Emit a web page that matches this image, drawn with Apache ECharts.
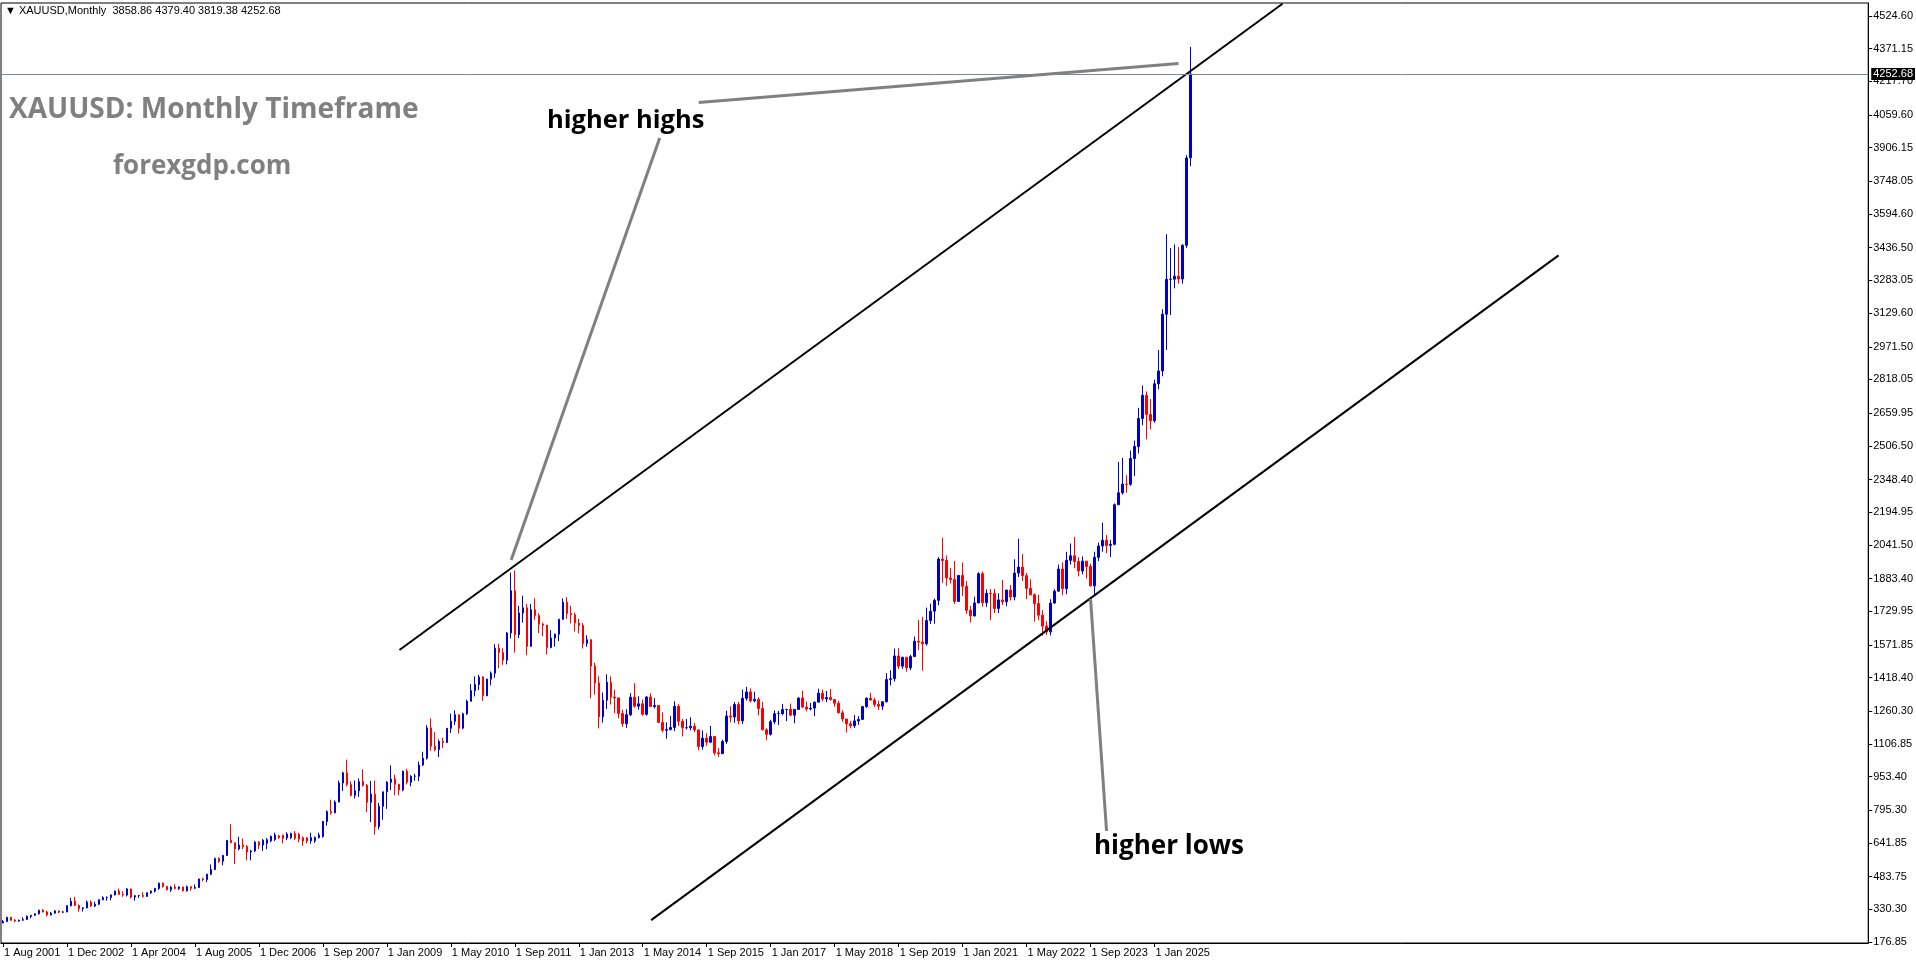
<!DOCTYPE html>
<html><head><meta charset="utf-8">
<script src="https://cdn.jsdelivr.net/npm/echarts@6/dist/echarts.min.js"></script>
<style>html,body{margin:0;padding:0;background:#fff;overflow:hidden}#c{width:1916px;height:964px}</style>
</head><body><div id="c"></div>
<script>
// Monthly bars, each row = [open, high, low, close]
const y2001 = [[266,280,265,273],[273,294,270,293],[293,293,277,279],[279,285,271,275],[275,282,272,279]];
const y2002 = [[279,293,277,282],[282,302,280,297],[297,304,288,302],[302,311,299,309],[309,328,306,326],[326,331,316,318],[318,324,297,304],[304,318,301,312],[312,326,310,323],[323,323,312,317],[317,323,313,318],[318,349,316,347]];
const y2003 = [[347,384,344,368],[368,389,345,348],[348,353,319,334],[334,341,320,337],[337,372,335,364],[364,372,342,346],[346,366,341,354],[354,377,350,375],[375,392,373,385],[385,391,371,386],[386,400,373,398],[398,418,396,416]];
const y2004 = [[416,428,399,400],[400,415,389,397],[397,430,391,426],[426,428,381,388],[388,397,371,394],[394,398,384,395],[395,410,386,391],[391,410,389,408],[408,419,402,416],[416,431,409,428],[428,456,421,453],[453,456,432,438]];
const y2005 = [[438,440,419,422],[422,439,412,435],[435,448,424,428],[428,439,421,435],[435,437,414,417],[417,442,414,436],[436,438,418,429],[429,447,425,433],[433,474,431,473],[473,479,462,470],[470,497,458,495],[495,541,492,517]];
const y2006 = [[517,573,515,569],[569,574,548,556],[556,586,537,583],[583,655,582,654],[654,730,642,643],[643,644,543,614],[614,671,607,632],[632,663,613,625],[625,632,560,599],[599,610,560,604],[604,650,599,646],[646,650,613,632]];
const y2007a = [[632,660,605,655],[640,665,612,657],[652,676,645,673],[658,690,650,679],[675,680,660,668],[678,681,640,664],[665,692,655,684],[667,690,660,686],[686,698,655,664],[683,690,645,660],[666,672,628,651],[666,670,640,651],[652,690,638,667],[652,672,642,668],[667,690,662,679]];
const y2007b = [[672,744,667,743],[743,795,723,789],[789,845,775,783],[783,842,782,834]];
const y2008 = [[834,935,833,923],[923,976,886,971],[971,1033,907,916],[916,931,860,865],[865,935,851,887],[887,945,858,930],[930,988,906,913],[913,919,786,833],[833,933,740,871],[871,935,681,718],[718,830,705,814],[814,882,751,882]];
const y2009 = [[882,932,802,927],[927,1006,890,942],[942,962,866,917],[917,920,865,891],[891,981,884,979],[979,990,917,927],[927,960,908,955],[955,967,934,955],[955,1024,932,1008],[1008,1070,1003,1040],[1040,1195,1033,1182],[1182,1227,1075,1096]];
const y2010 = [[1096,1162,1072,1081],[1081,1128,1045,1118],[1118,1135,1088,1113],[1113,1180,1112,1180],[1180,1249,1158,1213],[1213,1265,1196,1244],[1244,1245,1156,1181],[1181,1254,1176,1248],[1248,1314,1244,1307],[1307,1388,1307,1357],[1357,1424,1330,1386],[1386,1431,1360,1421]];
const y2011 = [[1421,1424,1309,1333],[1333,1413,1331,1411],[1411,1447,1382,1439],[1439,1575,1417,1556],[1556,1577,1462,1536],[1536,1556,1478,1500],[1500,1632,1480,1628],[1628,1911,1602,1826],[1826,1921,1535,1620],[1620,1755,1604,1722],[1722,1803,1676,1746],[1746,1764,1523,1565]];
const y2012 = [[1565,1764,1563,1737],[1737,1791,1690,1710],[1710,1720,1627,1669],[1669,1676,1613,1664],[1664,1666,1527,1560],[1560,1641,1556,1604],[1604,1625,1564,1622],[1622,1694,1590,1692],[1692,1790,1690,1772],[1772,1796,1694,1719],[1719,1755,1672,1713],[1713,1723,1635,1675]];
const y2013 = [[1675,1694,1626,1663],[1663,1675,1555,1578],[1578,1617,1563,1596],[1596,1598,1321,1472],[1472,1488,1338,1393],[1393,1424,1180,1234],[1234,1348,1207,1312],[1312,1434,1271,1396],[1396,1424,1292,1327],[1327,1361,1251,1323],[1323,1324,1227,1250],[1250,1267,1187,1202]];
const y2014 = [[1202,1270,1182,1244],[1244,1345,1238,1326],[1326,1392,1277,1284],[1284,1331,1268,1295],[1295,1315,1240,1246],[1246,1332,1240,1327],[1327,1345,1281,1282],[1282,1322,1273,1287],[1287,1287,1205,1208],[1208,1255,1161,1171],[1171,1208,1131,1175],[1175,1238,1170,1184]];
const y2015 = [[1184,1307,1167,1283],[1283,1293,1191,1213],[1213,1224,1142,1183],[1183,1224,1175,1183],[1183,1232,1170,1190],[1190,1205,1162,1172],[1172,1175,1077,1095],[1095,1170,1080,1134],[1134,1157,1098,1115],[1115,1191,1111,1142],[1142,1142,1053,1065],[1065,1088,1046,1061]];
const y2016 = [[1061,1127,1061,1118],[1118,1263,1107,1238],[1238,1283,1208,1233],[1233,1303,1206,1292],[1292,1304,1199,1215],[1215,1362,1200,1321],[1321,1375,1310,1351],[1351,1367,1301,1309],[1309,1352,1302,1316],[1316,1326,1241,1273],[1273,1304,1171,1173],[1173,1180,1124,1152]];
const y2017 = [[1152,1220,1146,1211],[1211,1264,1200,1249],[1249,1262,1195,1249],[1249,1295,1241,1268],[1268,1270,1214,1269],[1269,1296,1237,1242],[1242,1270,1204,1269],[1269,1326,1267,1322],[1322,1357,1275,1280],[1280,1306,1260,1271],[1271,1299,1264,1275],[1275,1306,1237,1303]];
const y2018 = [[1303,1366,1302,1345],[1345,1362,1307,1318],[1318,1356,1303,1325],[1325,1365,1310,1315],[1315,1318,1282,1298],[1298,1309,1250,1253],[1253,1265,1211,1224],[1224,1224,1160,1201],[1201,1214,1180,1192],[1192,1243,1182,1215],[1215,1237,1196,1222],[1222,1285,1221,1282]];
const y2019 = [[1282,1326,1276,1321],[1321,1347,1310,1313],[1313,1324,1280,1292],[1292,1310,1266,1284],[1284,1306,1266,1305],[1305,1439,1301,1409],[1409,1453,1382,1413],[1413,1555,1400,1520],[1520,1557,1459,1472],[1472,1517,1459,1513],[1513,1516,1446,1464],[1464,1525,1454,1517]];
const y2020 = [[1517,1611,1517,1589],[1589,1689,1548,1585],[1585,1704,1451,1577],[1577,1747,1568,1686],[1686,1765,1670,1730],[1730,1789,1671,1781],[1781,1984,1758,1975],[1975,2075,1863,1968],[1968,1992,1849,1886],[1886,1933,1860,1879],[1879,1965,1764,1776],[1776,1900,1775,1898]];
const y2021 = [[1898,1959,1802,1847],[1847,1872,1717,1734],[1734,1755,1677,1708],[1708,1798,1705,1769],[1769,1913,1767,1906],[1906,1916,1751,1770],[1770,1832,1750,1814],[1814,1834,1688,1813],[1813,1835,1721,1743],[1743,1814,1721,1783],[1783,1877,1759,1774],[1774,1831,1753,1829]];
const y2022 = [[1829,1853,1780,1797],[1797,1974,1781,1909],[1909,2070,1890,1937],[1937,1998,1872,1897],[1897,1910,1787,1837],[1837,1880,1805,1807],[1807,1814,1681,1766],[1766,1808,1688,1711],[1711,1735,1615,1660],[1660,1683,1618,1633],[1633,1786,1616,1768],[1768,1833,1765,1824]];
const y2023 = [[1824,1949,1823,1928],[1928,1959,1805,1836],[1836,2009,1810,1969],[1969,2048,1949,1990],[1990,2079,1932,1963],[1963,1983,1893,1919],[1919,1987,1903,1965],[1965,1966,1884,1940],[1940,1953,1846,1849],[1849,2009,1811,1983],[1983,2052,1965,2036],[2036,2146,2009,2063]];
const y2024 = [[2063,2088,2002,2039],[2039,2065,1984,2044],[2044,2236,2039,2230],[2230,2431,2228,2286],[2286,2450,2277,2327],[2327,2368,2286,2326],[2326,2484,2319,2447],[2447,2531,2364,2503],[2503,2685,2471,2635],[2635,2790,2603,2744],[2744,2762,2537,2654],[2654,2726,2583,2624]];
const y2025 = [[2624,2817,2615,2798],[2798,2956,2772,2858],[2858,3148,2833,3124],[3124,3500,2957,3288],[3288,3435,3121,3289],[3289,3452,3246,3303],[3303,3439,3268,3290],[3290,3452,3268,3448],[3448,3871,3436,3858],[3858.86,4379.40,3819.38,4252.68]];

// x-axis labels (one every 16 bars, starting at the first bar)
const xTickLabels = ['1 Aug 2001','1 Dec 2002','1 Apr 2004','1 Aug 2005','1 Dec 2006','1 Sep 2007','1 Jan 2009','1 May 2010','1 Sep 2011','1 Jan 2013','1 May 2014','1 Sep 2015','1 Jan 2017','1 May 2018','1 Sep 2019','1 Jan 2021','1 May 2022','1 Sep 2023','1 Jan 2025'];
const xTickStep = 16;
// price scale labels
const yTickLabels = ['176.85','330.30','483.75','641.85','795.30','953.40','1106.85','1260.30','1418.40','1571.85','1729.95','1883.40','2041.50','2194.95','2348.40','2506.50','2659.95','2818.05','2971.50','3129.60','3283.05','3436.50','3594.60','3748.05','3906.15','4059.60','4217.70','4371.15','4524.60'];
const priceMin = 172.15, priceMax = 4585.6;
const totalSlots = 467; // bars + empty right margin
const lastPrice = 4252.68;
const headerText = '\u25BC XAUUSD,Monthly  3858.86 4379.40 3819.38 4252.68';

// channel lines [barIndex, price]
const upperChannel = [[99.15, 1547.8], [320, 4582]];
const lowerChannel = [[162.1, 279.7], [389.05, 3400.6]];
// annotation pointer lines [barIndex, price]
const pointerLines = [
  [[164.25, 3951.8], [127.1, 1970.4]],
  [[174, 4118], [294, 4301.6]],
  [[276, 698], [272, 1788]]
];

const bars = [].concat(y2001,y2002,y2003,y2004,y2005,y2006,y2007a,y2007b,y2008,y2009,y2010,y2011,y2012,y2013,y2014,y2015,y2016,y2017,y2018,y2019,y2020,y2021,y2022,y2023,y2024,y2025);
const categories = Array.from({length: totalSlots}, (_, i) => String(i));
const candleData = bars.map(b => [b[0], b[3], b[2], b[1]]);
const yTickValues = yTickLabels.map(Number);
const isLabelIdx = (i) => i % xTickStep === 0 && (i / xTickStep) < xTickLabels.length;

const UP = '#0000CD', DOWN = '#FF0000';
const axisFont = 'Liberation Sans, Arial, sans-serif';
const narrowFont = '"Liberation Sans Narrow", "Arial Narrow", "Liberation Sans", sans-serif';

const chart = echarts.init(document.getElementById('c'), null, {renderer: 'canvas'});
const series = [{
  type: 'candlestick',
  xAxisIndex: 0, yAxisIndex: 0,
  data: candleData,
  barWidth: 2,
  itemStyle: {color: UP, color0: DOWN, borderColor: UP, borderColor0: DOWN, borderWidth: 1},
  silent: true,
  markLine: {
    silent: true, symbol: 'none', animation: false,
    data: [{
      yAxis: lastPrice,
      lineStyle: {color: '#778899', width: 1, type: 'solid'},
      label: {show: true, position: 'end', formatter: lastPrice.toFixed(2), backgroundColor: '#000', color: '#fff',
        fontFamily: axisFont, fontSize: 11, padding: [1, 2, 0, 2], distance: 3}
    }]
  },
  z: 3
}, {
  type: 'line', xAxisIndex: 1, yAxisIndex: 0, data: upperChannel, showSymbol: false, silent: true,
  lineStyle: {color: '#000', width: 2}, z: 4, clip: true
}, {
  type: 'line', xAxisIndex: 1, yAxisIndex: 0, data: lowerChannel, showSymbol: false, silent: true,
  lineStyle: {color: '#000', width: 2}, z: 4, clip: true
}];
pointerLines.forEach(pl => series.push({
  type: 'line', xAxisIndex: 1, yAxisIndex: 0, data: pl, showSymbol: false, silent: true,
  lineStyle: {color: '#808080', width: 3}, z: 5
}));

chart.setOption({
  animation: false,
  backgroundColor: '#fff',
  grid: {left: 1, right: 46, top: 3, bottom: 21, show: true, borderColor: '#000', borderWidth: 1, backgroundColor: '#fff', containLabel: false},
  xAxis: [{
    type: 'category', data: categories, boundaryGap: true,
    axisLine: {show: true, onZero: false, lineStyle: {color: '#000', width: 1}},
    axisTick: {show: true, alignWithLabel: true, length: 4, interval: (i) => isLabelIdx(i), lineStyle: {color: '#000'}},
    axisLabel: {show: true, interval: (i) => isLabelIdx(i), formatter: (v, i) => isLabelIdx(i) ? xTickLabels[i / xTickStep] : '',
      align: 'left', color: '#000', fontSize: 11, fontFamily: narrowFont, margin: 4, padding: [0, 0, 0, 1]},
    splitLine: {show: false}
  }, {
    type: 'value', min: -0.5, max: totalSlots - 0.5, show: false
  }],
  yAxis: [{
    type: 'value', position: 'right', min: priceMin, max: priceMax, scale: true,
    axisLine: {show: true, onZero: false, lineStyle: {color: '#000', width: 1}},
    axisTick: {show: true, length: 4, customValues: yTickValues, lineStyle: {color: '#000'}},
    axisLabel: {show: true, customValues: yTickValues, formatter: (v) => Number(v).toFixed(2), color: '#000', fontSize: 11, fontFamily: axisFont, margin: 5},
    splitLine: {show: false}
  }],
  graphic: [
    {type: 'text', x: 5, y: 11, z: 100, style: {text: headerText, font: '11px Liberation Sans, DejaVu Sans, sans-serif', fill: '#000', verticalAlign: 'middle', align: 'left'}},
    {type: 'text', x: 9, y: 110, z: 100, style: {text: 'XAUUSD: Monthly Timeframe', font: 'bold 28px "Open Sans", sans-serif', fill: '#808080', verticalAlign: 'middle', align: 'left'}},
    {type: 'text', x: 113, y: 167, z: 100, style: {text: 'forexgdp.com', font: 'bold 26px "Open Sans", sans-serif', fill: '#808080', verticalAlign: 'middle', align: 'left'}},
    {type: 'text', x: 547, y: 121, z: 100, style: {text: 'higher highs', font: 'bold 25.5px "Open Sans", sans-serif', fill: '#000', verticalAlign: 'middle', align: 'left'}},
    {type: 'text', x: 1094, y: 847, z: 100, style: {text: 'higher lows', font: 'bold 26px "Open Sans", sans-serif', fill: '#000', verticalAlign: 'middle', align: 'left'}}
  ],
  series: series
});
</script>
</body></html>
